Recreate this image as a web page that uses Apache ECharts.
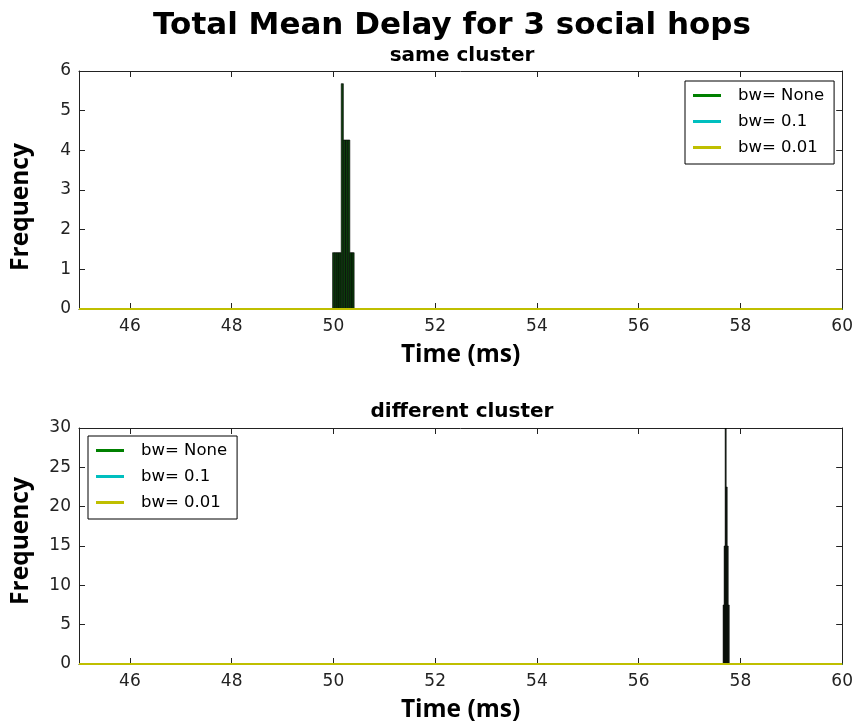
<!DOCTYPE html>
<html>
<head>
<meta charset="utf-8">
<script src="https://cdn.jsdelivr.net/npm/echarts@6/dist/echarts.min.js"></script>
<style>
  html, body { margin: 0; padding: 0; background: #fff; }
  #chart { width: 856px; height: 724px; }
</style>
</head>
<body>
<div id="chart"></div>
<script>
// Histogram bins (left edge, right edge) and density heights, same cluster
const sameBinStart = [49.984, 50.026, 50.069, 50.111, 50.154, 50.196, 50.238, 50.281, 50.323, 50.366];
const sameBinEnd   = [50.026, 50.069, 50.111, 50.154, 50.196, 50.238, 50.281, 50.323, 50.366, 50.408];
const sameHeights  = [1.42, 1.42, 1.42, 1.42, 5.68, 4.26, 4.26, 4.26, 1.42, 1.42];

// Histogram bins and density heights, different cluster
const diffBinStart = [57.660, 57.680, 57.700, 57.720, 57.740, 57.760];
const diffBinEnd   = [57.680, 57.700, 57.720, 57.740, 57.760, 57.780];
const diffHeights  = [7.5, 15, 30, 22.5, 15, 7.5];

// KDE curves (flat at zero over the plotted range)
const kdeX = [45, 50, 55, 60];
const kdeNone = [0, 0, 0, 0];
const kdeBw01 = [0, 0, 0, 0];
const kdeBw001 = [0, 0, 0, 0];

const kdeNames = ['bw= None', 'bw= 0.1', 'bw= 0.01'];
const kdeColors = ['#008000', '#00bfbf', '#bfbf00'];

const xTickValues = [46, 48, 50, 52, 54, 56, 58, 60];
const topYMax = 6, topYStep = 1;
const botYMax = 30, botYStep = 5;

const tickFont = { fontFamily: 'DejaVu Sans', fontSize: 17, color: '#222' };
const labelFont = { fontFamily: 'Open Sans', fontWeight: 'bold', fontSize: 24.5, color: '#000' };
const frameColor = '#222';

function xAxes(gridIndex) {
  return [
    {
      type: 'value', gridIndex, min: 45, max: 60, position: 'bottom',
      name: 'Time (ms)', nameLocation: 'middle', nameGap: 34,
      nameTextStyle: labelFont,
      axisLine: { show: true, onZero: false, lineStyle: { color: frameColor, width: 1 } },
      axisTick: { show: true, inside: true, length: 6, customValues: xTickValues, lineStyle: { color: frameColor } },
      axisLabel: { ...tickFont, margin: 9, customValues: xTickValues, showMaxLabel: true },
      splitLine: { show: false }
    },
    {
      type: 'value', gridIndex, min: 45, max: 60, position: 'top',
      axisLine: { show: true, onZero: false, lineStyle: { color: frameColor, width: 1 } },
      axisTick: { show: true, inside: true, length: 6, customValues: xTickValues, lineStyle: { color: frameColor } },
      axisLabel: { show: false },
      splitLine: { show: false }
    }
  ];
}

function yAxes(gridIndex, max, step) {
  return [
    {
      type: 'value', gridIndex, min: 0, max, interval: step, position: 'left',
      axisLine: { show: true, onZero: false, lineStyle: { color: frameColor, width: 1 } },
      axisTick: { show: true, inside: true, length: 6, lineStyle: { color: frameColor } },
      axisLabel: { ...tickFont, margin: 8 },
      splitLine: { show: false }
    },
    {
      type: 'value', gridIndex, min: 0, max, interval: step, position: 'right',
      axisLine: { show: true, onZero: false, lineStyle: { color: frameColor, width: 1 } },
      axisTick: { show: true, inside: true, length: 6, lineStyle: { color: frameColor } },
      axisLabel: { show: false },
      splitLine: { show: false }
    }
  ];
}

function histSeries(starts, ends, heights, axisBase, fill) {
  return {
    type: 'custom',
    xAxisIndex: axisBase, yAxisIndex: axisBase,
    clip: true,
    z: 2,
    data: starts.map((s, i) => [s, ends[i], heights[i]]),
    encode: { x: [0, 1], y: 2 },
    renderItem: function (params, api) {
      const topLeft = api.coord([api.value(0), api.value(2)]);
      const botRight = api.coord([api.value(1), 0]);
      return {
        type: 'rect',
        shape: { x: topLeft[0], y: topLeft[1], width: botRight[0] - topLeft[0], height: botRight[1] - topLeft[1] },
        style: { fill, stroke: '#000', lineWidth: 0.6 }
      };
    }
  };
}

function kdeSeries(axisBase) {
  const ys = [kdeNone, kdeBw01, kdeBw001];
  return kdeNames.map((name, k) => ({
    name, type: 'line', xAxisIndex: axisBase, yAxisIndex: axisBase,
    data: kdeX.map((x, i) => [x, ys[k][i]]),
    showSymbol: false, symbol: 'none', z: 3,
    lineStyle: { color: kdeColors[k], width: 2 },
    itemStyle: { color: kdeColors[k] },
    animation: false
  }));
}

function legendAt(left, top) {
  return {
    data: kdeNames, orient: 'vertical', left, top,
    icon: 'rect', itemWidth: 28, itemHeight: 3, itemGap: 9,
    padding: [6, 10, 8, 8],
    borderColor: '#000', borderWidth: 1, backgroundColor: '#fff',
    textStyle: { fontFamily: 'DejaVu Sans', fontSize: 16.5, color: '#000', lineHeight: 17, padding: [0, 0, 0, 12] },
    selectedMode: false
  };
}

// Rotated "Frequency" labels beside each panel
function yTitle(cx, cy) {
  return {
    type: 'text', x: cx, y: cy, rotation: Math.PI / 2,
    style: {
      text: 'Frequency', align: 'center', verticalAlign: 'middle',
      font: 'bold 24.5px "Open Sans"', fill: '#000'
    }
  };
}

const chart = echarts.init(document.getElementById('chart'), null, { renderer: 'canvas' });
chart.setOption({
  animation: false,
  backgroundColor: '#fff',
  title: [
    { text: 'Total Mean Delay for 3 social hops', left: 447, top: 5, textAlign: 'center',
      textStyle: { fontFamily: 'DejaVu Sans', fontWeight: 'bold', fontSize: 31, color: '#000' } },
    { text: 'same cluster', left: 457, top: 41, textAlign: 'center',
      textStyle: { fontFamily: 'DejaVu Sans', fontWeight: 'bold', fontSize: 20, color: '#000' } },
    { text: 'different cluster', left: 457, top: 397, textAlign: 'center',
      textStyle: { fontFamily: 'DejaVu Sans', fontWeight: 'bold', fontSize: 20, color: '#000' } }
  ],
  graphic: [yTitle(21.5, 207), yTitle(21.5, 541)],
  legend: [legendAt(685, 81), legendAt(88, 436)],
  grid: [
    { left: 79, right: 13, top: 71, height: 238 },
    { left: 79, right: 13, top: 428, height: 237 }
  ],
  xAxis: [...xAxes(0), ...xAxes(1)],
  yAxis: [...yAxes(0, topYMax, topYStep), ...yAxes(1, botYMax, botYStep)],
  series: [
    histSeries(sameBinStart, sameBinEnd, sameHeights, 0, '#0b3d0b'),
    ...kdeSeries(0),
    histSeries(diffBinStart, diffBinEnd, diffHeights, 2, '#061806'),
    ...kdeSeries(2)
  ]
});
</script>
</body>
</html>
